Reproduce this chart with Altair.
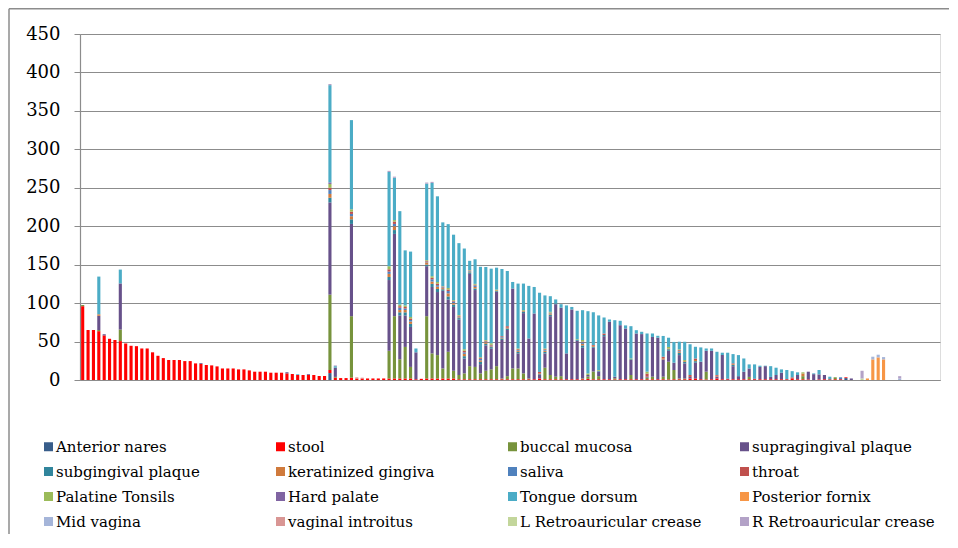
import altair as alt
import pandas as pd

N_BARS = 160
bars = list(range(N_BARS))
y_ticks = [0, 50, 100, 150, 200, 250, 300, 350, 400, 450]

series = ["Anterior nares", "stool", "buccal mucosa", "supragingival plaque",
          "subgingival plaque", "keratinized gingiva", "saliva", "throat",
          "Palatine Tonsils", "Hard palate", "Tongue dorsum", "Posterior fornix",
          "Mid vagina", "vaginal introitus", "L Retroauricular crease",
          "R Retroauricular crease"]
colors = ["#385D8A", "#FF0000", "#77933C", "#67518A",
          "#31859C", "#D07A3C", "#4F81BD", "#C0504D",
          "#9BBB59", "#8064A2", "#4BACC6", "#F79646",
          "#A5B5D9", "#D99694", "#C3D69B", "#B3A2C7"]

anterior_nares = {46: 9, 142: 2.5}
stool = {0: 96, 1: 65, 2: 65, 3: 63.5, 4: 58, 5: 53.6, 6: 52, 7: 50.6, 8: 47.5, 9: 44.5,
         10: 44, 11: 41, 12: 41, 13: 36, 14: 31.5, 15: 28.5, 16: 26, 17: 26, 18: 26, 19: 24.6,
         20: 24.6, 21: 21.6, 22: 21, 23: 19.5, 24: 19, 25: 17.7, 26: 15, 27: 15, 28: 15, 29: 13.8,
         30: 13.8, 31: 12.5, 32: 10.8, 33: 10.8, 34: 10.8, 35: 9.5, 36: 9.5, 37: 9.5, 38: 8.6, 39: 7.8,
         40: 6.5, 41: 6.5, 42: 6.5, 43: 6.5, 44: 5.2, 45: 5.2, 46: 4, 47: 3, 48: 2.5, 49: 2.5,
         50: 3, 51: 2, 52: 2, 53: 2, 54: 2, 55: 2, 56: 2, 57: 2, 58: 2, 59: 2,
         60: 2, 61: 2, 62: 1, 63: 1.5, 64: 2, 65: 2, 66: 2, 67: 2, 68: 2, 69: 2,
         70: 1, 71: 1, 72: 1, 73: 1, 74: 1, 75: 1, 76: 1, 77: 1, 78: 1, 79: 1,
         80: 1, 81: 1, 82: 1, 83: 1, 84: 1, 85: 2, 86: 1, 87: 1, 88: 1, 89: 1,
         90: 1, 91: 1, 92: 1, 93: 1, 94: 1.5, 95: 1, 96: 1, 97: 1, 98: 1, 99: 0.8,
         100: 1, 101: 1, 102: 1, 103: 1, 104: 1, 105: 1, 106: 1, 107: 1, 108: 1, 109: 0.8,
         110: 1, 111: 1, 112: 1, 113: 2, 114: 2, 115: 1, 116: 0.8, 117: 1, 118: 2, 119: 1,
         120: 1, 121: 1, 122: 1, 123: 1, 124: 1, 125: 1, 126: 1, 127: 1, 128: 1, 129: 1,
         130: 1, 131: 1, 132: 1.5, 133: 1, 134: 1, 135: 0.8, 137: 0.8, 138: 1, 139: 0.8,
         140: 1, 141: 1, 142: 1}
buccal_mucosa = {0: 1.5, 3: 1.5, 7: 15, 46: 98, 47: 1, 50: 80, 57: 36, 58: 81, 59: 25, 60: 41,
                 61: 15, 64: 81, 65: 32.6, 66: 30.4, 67: 13, 68: 34.7, 69: 10, 70: 5.5, 71: 7.6,
                 72: 17, 73: 16, 74: 7.6, 75: 11, 76: 12.8, 77: 17, 78: 1, 79: 4, 80: 14, 81: 14,
                 82: 7.6, 83: 1, 86: 15, 87: 5.5, 88: 3.3, 89: 4, 93: 1, 94: 3, 95: 10, 96: 4,
                 99: 1.5, 102: 5.5, 105: 2, 106: 3.3, 108: 3.3, 109: 23, 110: 12, 111: 1, 112: 1,
                 116: 10, 124: 3, 134: 4, 140: 2.5}
supragingival_plaque = {3: 18.5, 4: 1.5, 7: 60, 22: 1, 38: 1.5, 42: 1, 46: 120, 47: 12, 50: 120,
                        57: 92, 58: 107, 59: 57, 60: 41, 61: 52, 62: 35, 64: 65, 65: 86.4, 66: 82,
                        67: 101, 68: 68, 69: 83, 70: 72, 71: 19.4, 72: 120, 73: 100, 74: 12, 75: 33,
                        76: 27, 77: 96.6, 78: 50, 79: 60, 80: 104, 81: 19.6, 82: 78.4, 83: 52,
                        84: 85.5, 85: 4.5, 86: 18.5, 87: 76.5, 88: 94.3, 89: 89, 90: 33.6, 91: 90.7,
                        92: 50, 93: 40, 94: 2, 95: 31, 96: 6, 97: 56, 98: 74.7, 99: 2, 100: 70.3,
                        101: 66, 102: 19.5, 103: 59.5, 104: 58.7, 105: 1.3, 106: 51.7, 107: 54,
                        108: 22.5, 109: 14.2, 110: 9.5, 111: 30.4, 112: 19.6, 113: 2, 114: 20.5,
                        115: 22.8, 116: 27.2, 117: 37, 118: 2.5, 119: 31.5, 120: 1, 121: 17,
                        122: 4, 123: 9.8, 124: 11, 125: 1, 126: 16, 127: 17, 128: 3, 129: 5.5,
                        130: 8.5, 133: 5.5, 135: 10, 136: 7.6, 137: 6.5, 138: 5.5, 143: 2}
subgingival_plaque = {46: 6, 50: 6, 57: 4, 58: 5, 59: 4, 60: 4, 61: 4, 64: 2, 65: 4, 66: 4, 67: 2,
                      68: 4, 69: 3, 70: 2, 71: 3, 72: 2, 73: 2, 74: 3, 75: 2, 76: 2, 77: 1, 78: 2,
                      79: 2, 81: 2, 82: 1.5, 85: 1, 86: 2, 87: 2, 88: 1, 92: 1, 93: 3, 95: 1.4,
                      96: 1, 97: 1.5, 102: 1, 109: 2, 111: 3, 112: 2, 114: 2, 121: 1.7, 139: 1.5}
keratinized_gingiva = {3: 2, 46: 5, 50: 4, 57: 4, 58: 5, 59: 3, 60: 3, 61: 3, 64: 3, 65: 3, 66: 3,
                       67: 1.5, 68: 4, 69: 2, 70: 1, 71: 3, 72: 1, 73: 2, 74: 2, 75: 2, 76: 1,
                       77: 1, 78: 1, 79: 1, 81: 1.4, 82: 1, 85: 1, 86: 1.5, 87: 1.6, 93: 2, 95: 1,
                       108: 1.5, 109: 1, 111: 1.4, 112: 1, 114: 1.5, 118: 1, 121: 1, 134: 3.5}
saliva = {46: 5, 50: 3, 57: 3, 58: 3, 59: 3, 60: 2, 61: 2, 64: 1, 65: 3, 66: 2, 67: 1, 68: 3,
          69: 2, 70: 1, 71: 2, 72: 1, 73: 2, 74: 2, 75: 1, 76: 1, 78: 1, 81: 1, 82: 0.5, 86: 1,
          87: 1, 93: 2, 111: 1, 141: 2.5}
throat = {46: 3, 50: 3, 57: 3, 58: 3, 59: 2, 60: 2, 61: 2, 64: 1, 65: 2, 66: 2, 67: 1, 68: 2,
          69: 1, 70: 1, 71: 2, 72: 0.5, 73: 1, 74: 1, 75: 1, 76: 1, 78: 1, 79: 2, 81: 1, 85: 2,
          86: 1, 93: 1, 95: 1, 97: 2, 105: 4, 108: 2, 111: 1, 113: 2.5, 114: 2, 118: 1, 121: 1,
          132: 2}
palatine_tonsils = {46: 5, 50: 3, 57: 4, 58: 2, 59: 2, 60: 2, 61: 2, 64: 1, 65: 2, 66: 2, 67: 0.5,
                    68: 2, 69: 1, 70: 1, 71: 2, 72: 0.5, 73: 1, 74: 1, 75: 1, 76: 2, 77: 1, 81: 1,
                    82: 1, 86: 1, 87: 1, 92: 1, 93: 2, 94: 2, 96: 1, 102: 1, 105: 2.5, 109: 2,
                    111: 1, 112: 1.4, 134: 1.5}
hard_palate = {46: 2}
tongue_dorsum = {3: 49, 7: 18, 40: 1, 46: 126.5, 47: 2, 50: 116, 57: 122.5, 58: 55, 59: 121.6,
                 60: 71.6, 61: 85, 62: 5, 64: 99.3, 65: 121.2, 66: 111.5, 67: 83, 68: 83, 69: 85,
                 70: 93.5, 71: 131, 72: 12, 73: 32, 74: 117.6, 75: 95, 76: 97, 77: 28.5,
                 78: 87.4, 79: 71.8, 80: 8.5, 81: 84.4, 82: 34.4, 83: 68.4, 84: 34.5, 85: 103,
                 86: 69, 87: 20.4, 88: 5.2, 89: 4.6, 90: 62.4, 91: 3.3, 92: 37, 93: 38.8, 94: 81,
                 95: 42.8, 96: 71, 97: 20.8, 98: 3, 99: 73.5, 100: 5.7, 101: 4, 102: 42, 103: 4.3,
                 104: 3, 105: 49.7, 106: 4.5, 107: 2.5, 108: 27, 109: 12, 110: 27, 111: 10,
                 112: 23.7, 113: 40, 114: 15.2, 115: 18.6, 116: 3, 117: 3, 118: 30.2, 119: 3,
                 120: 33.5, 121: 12, 122: 27.4, 123: 17.2, 124: 5.3, 125: 18.3, 126: 1.6,
                 127: 0.6, 128: 14, 129: 9.5, 130: 4.3, 131: 12, 132: 8, 133: 3.5, 136: 1,
                 137: 5.7, 139: 2}
posterior_fornix = {146: 2, 147: 26.8, 148: 29.4, 149: 26.8}
mid_vagina = {147: 3.5, 148: 3.5, 149: 3, 152: 2}
vaginal_introitus = {51: 1.5, 52: 1}
l_retroauricular = {145: 2}
r_retroauricular = {46: 1.5, 47: 1, 57: 1.5, 58: 1.5, 64: 1.5, 65: 1.5, 145: 10, 152: 3}

values = [anterior_nares, stool, buccal_mucosa, supragingival_plaque, subgingival_plaque,
          keratinized_gingiva, saliva, throat, palatine_tonsils, hard_palate, tongue_dorsum,
          posterior_fornix, mid_vagina, vaginal_introitus, l_retroauricular, r_retroauricular]

rows = []
for k, (name, d) in enumerate(zip(series, values)):
    for b, v in d.items():
        rows.append({"bar": b, "series": name, "value": v, "k": k})
df = pd.DataFrame(rows)

GRID = "#8c8c8c"

bars_chart = alt.Chart(df).mark_bar().encode(
    x=alt.X("bar:O",
            scale=alt.Scale(domain=bars, paddingInner=0.42, paddingOuter=0.21),
            axis=alt.Axis(labels=False, ticks=False, title=None, domainColor=GRID,
                          domainWidth=1.2, grid=False)),
    y=alt.Y("value:Q", stack="zero",
            scale=alt.Scale(domain=[0, 450], nice=False),
            axis=alt.Axis(values=y_ticks, title=None, grid=True, gridColor=GRID,
                          gridWidth=1.2, tickSize=6, tickColor=GRID, domainColor=GRID,
                          domainWidth=1.2, labelFont="DejaVu Serif", labelFontSize=18,
                          labelColor="#000000", labelPadding=14)),
    color=alt.Color("series:N",
                    scale=alt.Scale(domain=series, range=colors),
                    legend=alt.Legend(title=None, orient="none", legendX=-39, legendY=405,
                                      direction="horizontal",
                                      columns=4, gridAlign="all", columnPadding=34,
                                      rowPadding=9, padding=0, symbolType="square",
                                      symbolSize=81, symbolStrokeWidth=0, labelOffset=0,
                                      labelFont="DejaVu Serif", labelFontSize=15,
                                      labelColor="#000000", labelLimit=300)),
    order=alt.Order("k:Q", sort="ascending"),
)

frame_df = pd.DataFrame({"f": [0]})
frame_left = alt.Chart(frame_df).mark_rule(color=GRID, strokeWidth=1.5, clip=False).encode(
    x=alt.value(-71), y=alt.value(-25.2), y2=alt.value(500)
)
frame_top = alt.Chart(frame_df).mark_rule(color=GRID, strokeWidth=1.5, clip=False).encode(
    x=alt.value(-71), x2=alt.value(869), y=alt.value(-25.2)
)

chart = alt.layer(frame_left, frame_top, bars_chart).properties(
    width=860, height=346,
    autosize=alt.AutoSizeParams(type="none"),
    padding={"left": 72, "top": 26, "right": 10, "bottom": 156},
).configure_view(stroke=None).configure(background="#ffffff")

chart.save("out.html", embed_options={"renderer": "svg", "actions": False})
